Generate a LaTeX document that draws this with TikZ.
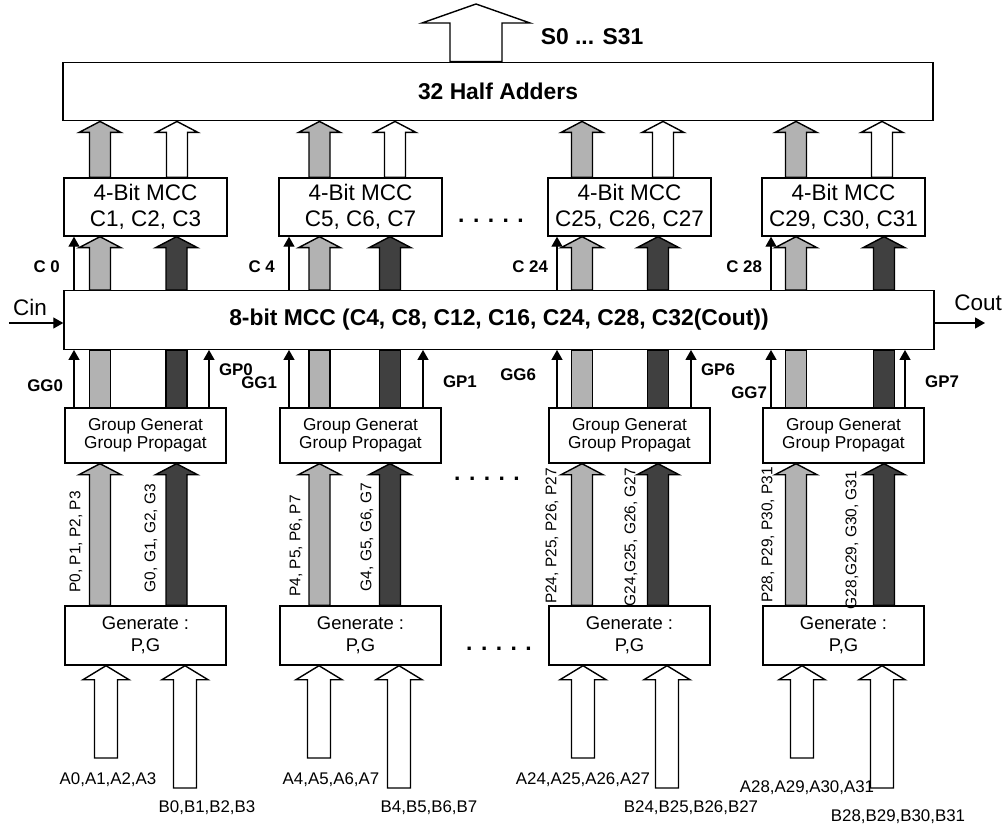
\documentclass[tikz,border=0pt]{standalone}
\usepackage{fontspec}
\setmainfont{Liberation Sans}
\usetikzlibrary{arrows.meta,calc}

\colorlet{pgray}{black!30}
\colorlet{ggray}{black!75}

\tikzset{
  blk shaft/.store in=\blkshaft, blk head/.store in=\blkhead, blk len/.store in=\blklen,
  blk shaft=0.21cm, blk head=0.42cm, blk len=0.22cm,
}
% block arrow at x, from one anchor up to another
\newcommand{\blk}[4]{%
  \draw[#1] let \p1=(#2,0 |- #3), \p2=(#2,0 |- #4) in
    (\x1-\blkshaft,\y1) -- (\x1-\blkshaft,\y2-\blklen) -- (\x1-\blkhead,\y2-\blklen) -- (\x1,\y2)
    -- (\x1+\blkhead,\y2-\blklen) -- (\x1+\blkshaft,\y2-\blklen) -- (\x1+\blkshaft,\y1) -- cycle;}
\newcommand{\blkbar}[4]{%
  \draw[#1] let \p1=(#2,0 |- #3), \p2=(#2,0 |- #4) in
    (\x1-\blkshaft,\y1) rectangle (\x1+\blkshaft,\y2);}

\begin{document}
\begin{tikzpicture}[
    wide/.style={draw, thick, minimum width=17.4cm, minimum height=1.17cm,
                 font=\bfseries\fontsize{13}{15}\selectfont},
    mbox/.style={draw, thick, minimum width=3.26cm, minimum height=1.16cm, align=center,
                 inner sep=1pt, font=\fontsize{12.8}{14.7}\selectfont},
    gbox/.style={draw, thick, minimum width=3.22cm, minimum height=1.10cm, align=center,
                 inner sep=1pt, font=\fontsize{9.8}{10.4}\selectfont},
    pgbox/.style={draw, thick, minimum width=3.22cm, minimum height=1.18cm, align=center,
                 inner sep=1pt, font=\fontsize{10.5}{12.5}\selectfont},
    pbar/.style={draw, thick, fill=pgray},
    gbar/.style={draw, thick, fill=ggray},
    wbar/.style={draw, thick, fill=white},
    inarr/.style={wbar, blk shaft=0.23cm, blk head=0.46cm, blk len=0.28cm},
    outarr/.style={wbar, blk shaft=0.52cm, blk head=1.08cm, blk len=0.38cm},
    arr/.style={-{Triangle[length=2mm,width=2.2mm]}, line width=0.7pt},
    lab/.style={inner sep=1pt, font=\bfseries\fontsize{9.6}{11}\selectfont},
    sig/.style={rotate=90, inner sep=1pt, font=\fontsize{8.8}{10}\selectfont},
    io/.style={inner sep=1pt, font=\fontsize{9.6}{11}\selectfont},
    big/.style={inner sep=1pt, font=\fontsize{12.8}{14}\selectfont},
    dots/.style={font=\bfseries\fontsize{13}{14}\selectfont},
]
\useasboundingbox (0,0) rectangle (20.16,-16.58);

\node[wide] (ha)   at (9.96,-1.83) {32 Half Adders};
\node[wide] (mcc8) at (9.98,-6.40) {8-bit MCC (C4, C8, C12, C16, C24, C28, C32(Cout))};

\node[mbox] (mcc1) at (2.91,-4.14)  {4-Bit MCC\\C1, C2, C3};
\node[mbox] (mcc2) at (7.21,-4.14)  {4-Bit MCC\\C5, C6, C7};
\node[mbox] (mcc3) at (12.59,-4.14) {4-Bit MCC\\C25, C26, C27};
\node[mbox] (mcc4) at (16.87,-4.14) {4-Bit MCC\\C29, C30, C31};

\node[gbox] (gp1) at (2.91,-8.71)  {Group Generat\\Group Propagat};
\node[gbox] (gp2) at (7.21,-8.71)  {Group Generat\\Group Propagat};
\node[gbox] (gp3) at (12.59,-8.71) {Group Generat\\Group Propagat};
\node[gbox] (gp4) at (16.87,-8.71) {Group Generat\\Group Propagat};

\node[pgbox] (gen1) at (2.91,-12.71)  {Generate :\\P,G};
\node[pgbox] (gen2) at (7.21,-12.71)  {Generate :\\P,G};
\node[pgbox] (gen3) at (12.59,-12.71) {Generate :\\P,G};
\node[pgbox] (gen4) at (16.87,-12.71) {Generate :\\P,G};

\node[dots] (d1) at (9.82,-4.42)  {. . . . .};
\node[dots] (d2) at (9.74,-9.58)  {. . . . .};
\node[dots] (d3) at (9.98,-12.98) {. . . . .};

% sums out
\coordinate (sum) at (9.52,-0.08);
\blk{outarr}{9.52}{ha.north}{sum}
\node[font=\bfseries\fontsize{13}{15}\selectfont] (lsum) at (11.84,-0.74) {S0 ... S31};

% carry in / out
\coordinate (cin) at (0.18,-6.46); \coordinate (cout) at (19.70,-6.46);
\draw[arr] (cin) -- (cin -| mcc8.west);
\draw[arr] (mcc8.east |- cout) -- (cout);
\node[big] (lcin)  at (0.60,-6.14)  {Cin};
\node[big] (lcout) at (19.56,-6.06) {Cout};

% inputs
\coordinate (a1) at (2.12,-15.16);  \coordinate (b1) at (3.70,-15.76);
\coordinate (a2) at (6.38,-15.16);  \coordinate (b2) at (7.98,-15.76);
\coordinate (a3) at (11.66,-15.16); \coordinate (b3) at (13.34,-15.76);
\coordinate (a4) at (16.04,-15.16); \coordinate (b4) at (17.64,-15.76);
\blk{inarr}{2.12}{a1}{gen1.south}  \blk{inarr}{3.70}{b1}{gen1.south}
\blk{inarr}{6.38}{a2}{gen2.south}  \blk{inarr}{7.98}{b2}{gen2.south}
\blk{inarr}{11.66}{a3}{gen3.south} \blk{inarr}{13.34}{b3}{gen3.south}
\blk{inarr}{16.04}{a4}{gen4.south} \blk{inarr}{17.64}{b4}{gen4.south}
\node[io] (la1) at (2.16,-15.60)  {A0,A1,A2,A3};     \node[io] (lb1) at (4.14,-16.16)  {B0,B1,B2,B3};
\node[io] (la2) at (6.62,-15.60)  {A4,A5,A6,A7};     \node[io] (lb2) at (8.58,-16.16)  {B4,B5,B6,B7};
\node[io] (la3) at (11.66,-15.60) {A24,A25,A26,A27}; \node[io] (lb3) at (13.82,-16.16) {B24,B25,B26,B27};
\node[io] (la4) at (16.14,-15.76) {A28,A29,A30,A31}; \node[io] (lb4) at (17.96,-16.34) {B28,B29,B30,B31};

% P and G up to group blocks
\blk{pbar}{2.00}{gen1.north}{gp1.south}  \blk{gbar}{3.53}{gen1.north}{gp1.south}
\blk{pbar}{6.39}{gen2.north}{gp2.south}  \blk{gbar}{7.80}{gen2.north}{gp2.south}
\blk{pbar}{11.64}{gen3.north}{gp3.south} \blk{gbar}{13.16}{gen3.north}{gp3.south}
\blk{pbar}{15.92}{gen4.north}{gp4.south} \blk{gbar}{17.68}{gen4.north}{gp4.south}
\node[sig] (lp1) at (1.52,-10.84)  {P0, P1, P2, P3};     \node[sig] (lg1) at (3.02,-10.76)  {G0, G1, G2, G3};
\node[sig] (lp2) at (5.92,-10.92)  {P4, P5, P6, P7};     \node[sig] (lg2) at (7.34,-10.74)  {G4, G5, G6, G7};
\node[sig] (lp3) at (11.04,-10.72) {P24, P25, P26, P27}; \node[sig] (lg3) at (12.62,-10.74) {G24,G25, G26, G27};
\node[sig] (lp4) at (15.36,-10.70) {P28, P29, P30, P31}; \node[sig] (lg4) at (17.04,-10.80) {G28,G29, G30, G31};

% P and G through the 8-bit MCC
\blkbar{pbar}{2.00}{gp1.north}{mcc8.south}  \blkbar{gbar}{3.53}{gp1.north}{mcc8.south}
\blkbar{pbar}{6.39}{gp2.north}{mcc8.south}  \blkbar{gbar}{7.80}{gp2.north}{mcc8.south}
\blkbar{pbar}{11.64}{gp3.north}{mcc8.south} \blkbar{gbar}{13.16}{gp3.north}{mcc8.south}
\blkbar{pbar}{15.92}{gp4.north}{mcc8.south} \blkbar{gbar}{17.68}{gp4.north}{mcc8.south}
\blk{pbar}{2.00}{mcc8.north}{mcc1.south}  \blk{gbar}{3.53}{mcc8.north}{mcc1.south}
\blk{pbar}{6.39}{mcc8.north}{mcc2.south}  \blk{gbar}{7.80}{mcc8.north}{mcc2.south}
\blk{pbar}{11.64}{mcc8.north}{mcc3.south} \blk{gbar}{13.16}{mcc8.north}{mcc3.south}
\blk{pbar}{15.92}{mcc8.north}{mcc4.south} \blk{gbar}{17.68}{mcc8.north}{mcc4.south}

% GG / GP into the 8-bit MCC
\draw[arr] (1.48,0 |- gp1.north) -- (1.48,0 |- mcc8.south);   \draw[arr] (4.18,0 |- gp1.north) -- (4.18,0 |- mcc8.south);
\draw[arr] (5.78,0 |- gp2.north) -- (5.78,0 |- mcc8.south);   \draw[arr] (8.46,0 |- gp2.north) -- (8.46,0 |- mcc8.south);
\draw[arr] (11.14,0 |- gp3.north) -- (11.14,0 |- mcc8.south); \draw[arr] (13.82,0 |- gp3.north) -- (13.82,0 |- mcc8.south);
\draw[arr] (15.42,0 |- gp4.north) -- (15.42,0 |- mcc8.south); \draw[arr] (18.10,0 |- gp4.north) -- (18.10,0 |- mcc8.south);
\node[lab, anchor=east] (lgg0) at (1.30,-7.72)  {GG0}; \node[lab, anchor=west] (lgp0) at (4.34,-7.40)  {GP0};
\node[lab, anchor=east] (lgg1) at (5.58,-7.66)  {GG1}; \node[lab, anchor=west] (lgp1) at (8.82,-7.64)  {GP1};
\node[lab, anchor=east] (lgg6) at (10.76,-7.50) {GG6}; \node[lab, anchor=west] (lgp6) at (13.98,-7.40) {GP6};
\node[lab, anchor=east] (lgg7) at (15.38,-7.86) {GG7}; \node[lab, anchor=west] (lgp7) at (18.46,-7.64) {GP7};

% carries into the 4-bit MCCs
\draw[arr] (1.48,0 |- mcc8.north) -- (1.48,0 |- mcc1.south);
\draw[arr] (5.78,0 |- mcc8.north) -- (5.78,0 |- mcc2.south);
\draw[arr] (11.14,0 |- mcc8.north) -- (11.14,0 |- mcc3.south);
\draw[arr] (15.42,0 |- mcc8.north) -- (15.42,0 |- mcc4.south);
\node[lab, anchor=east] (lc0)  at (1.24,-5.34)  {C 0};
\node[lab, anchor=east] (lc4)  at (5.54,-5.34)  {C 4};
\node[lab, anchor=east] (lc24) at (11.00,-5.34) {C 24};
\node[lab, anchor=east] (lc28) at (15.28,-5.34) {C 28};

% up to the half adders
\blk{pbar}{2.00}{mcc1.north}{ha.south}  \blk{wbar}{3.54}{mcc1.north}{ha.south}
\blk{pbar}{6.39}{mcc2.north}{ha.south}  \blk{wbar}{7.90}{mcc2.north}{ha.south}
\blk{pbar}{11.64}{mcc3.north}{ha.south} \blk{wbar}{13.26}{mcc3.north}{ha.south}
\blk{pbar}{15.92}{mcc4.north}{ha.south} \blk{wbar}{17.64}{mcc4.north}{ha.south}
\end{tikzpicture}
\end{document}
